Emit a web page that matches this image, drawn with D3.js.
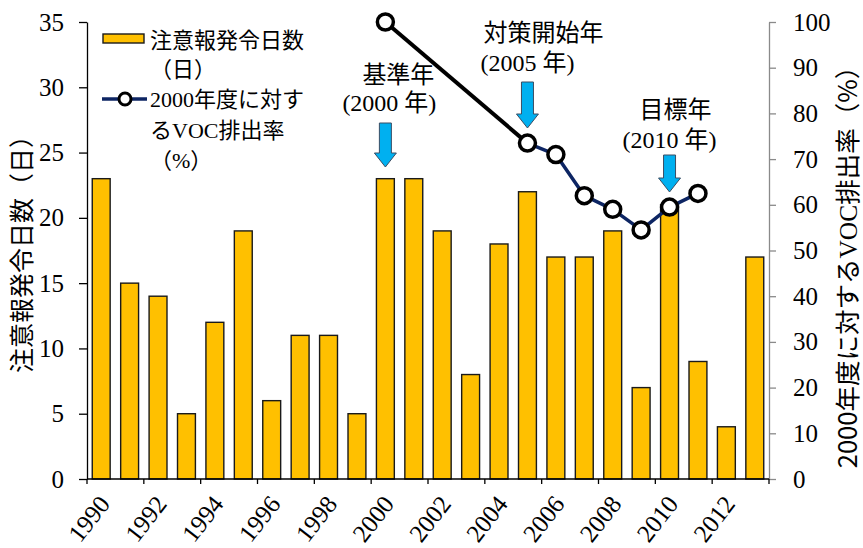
<!DOCTYPE html>
<html>
<head>
<meta charset="utf-8">
<script src="https://cdn.jsdelivr.net/npm/d3@7"></script>
<style>
  body { margin: 0; background: #fff; }
  svg { display: block; }
</style>
</head>
<body>
<svg id="chart" width="863" height="548"></svg>
<script>
// Photochemical oxidant alert days per year, and VOC emission ratio vs FY2000
const years = [1990, 1991, 1992, 1993, 1994, 1995, 1996, 1997, 1998, 1999, 2000, 2001,
               2002, 2003, 2004, 2005, 2006, 2007, 2008, 2009, 2010, 2011, 2012, 2013];
const alertDays = [23, 15, 14, 5, 12, 19, 6, 11, 11, 5, 23, 23,
                   19, 8, 18, 22, 17, 17, 19, 7, 21, 9, 4, 17];
const vocYears = [2000, 2005, 2006, 2007, 2008, 2009, 2010, 2011];
const vocRate = [100, 73.5, 71, 62, 59, 54.5, 59.5, 62.5];

const xTickLabels = [1990, 1992, 1994, 1996, 1998, 2000, 2002, 2004, 2006, 2008, 2010, 2012];
const leftTicks = [0, 5, 10, 15, 20, 25, 30, 35];
const rightTicks = [0, 10, 20, 30, 40, 50, 60, 70, 80, 90, 100];

const leftTitle = "注意報発令日数（日）";
const barLegend = ["注意報発令日数", "（日）"];
const lineLegend = ["2000年度に対す", "るVOC排出率", "（%）"];

// Callout labels with arrows pointing at milestone years
const callouts = [
  { year: 2000, lines: ["基準年", "(2000 年)"] },
  { year: 2005, lines: ["対策開始年", "(2005 年)"] },
  { year: 2010, lines: ["目標年", "(2010 年)"] }
];
// callout layout (px): text offsets from the arrow, line centres, arrow extent
const calloutLayout = [
  { dx: [13, 4], cy: [75, 103], top: 123, tip: 167 },
  { dx: [16, 0], cy: [33, 63], top: 82, tip: 128 },
  { dx: [6, 0], cy: [110, 140], top: 155, tip: 192 }
];

const SERIF = '"Liberation Serif", "Noto Sans CJK JP"';
const SANS = '"Noto Sans CJK JP"';

const svg = d3.select("#chart");
const plot = { left: 87, right: 769, top: 22, bottom: 479 };

const x = d3.scaleBand()
  .domain(years)
  .range([plot.left, plot.right])
  .paddingInner(0.37)
  .paddingOuter(0.185);
const yDays = d3.scaleLinear().domain([0, 35]).range([plot.bottom, plot.top]);
const yRate = d3.scaleLinear().domain([0, 100]).range([plot.bottom, plot.top]);
const cx = yr => x(yr) + x.bandwidth() / 2;

// Bars
svg.append("g")
  .selectAll("rect")
  .data(years.map((yr, i) => ({ yr, v: alertDays[i] })))
  .join("rect")
  .attr("x", d => x(d.yr))
  .attr("y", d => yDays(d.v))
  .attr("width", x.bandwidth())
  .attr("height", d => yDays(0) - yDays(d.v))
  .attr("fill", "#FFC000")
  .attr("stroke", "#1a1a1a")
  .attr("stroke-width", 1.4);

// Left axis
const leftAxis = svg.append("g")
  .attr("transform", `translate(${plot.left},0)`)
  .call(d3.axisLeft(yDays).tickValues(leftTicks).tickSize(8).tickPadding(15).tickSizeOuter(0));
leftAxis.select(".domain").attr("stroke", "#000").attr("stroke-width", 1.3);
leftAxis.selectAll(".tick line").attr("stroke", "#000").attr("stroke-width", 1.3);
leftAxis.selectAll(".tick text")
  .style("font-family", SERIF).style("font-size", "25px").attr("fill", "#000");

// Right axis
const rightAxis = svg.append("g")
  .attr("transform", `translate(${plot.right},0)`)
  .call(d3.axisRight(yRate).tickValues(rightTicks).tickSize(7).tickPadding(17).tickSizeOuter(0));
rightAxis.select(".domain").attr("stroke", "#8a8a8a").attr("stroke-width", 1.3);
rightAxis.selectAll(".tick line").attr("stroke", "#8a8a8a").attr("stroke-width", 1.3);
rightAxis.selectAll(".tick text")
  .style("font-family", SERIF).style("font-size", "25px").attr("fill", "#000");

// Bottom axis: ticks between every second category, slanted year labels
const xAxis = svg.append("g");
xAxis.append("line")
  .attr("x1", plot.left).attr("x2", plot.right)
  .attr("y1", plot.bottom).attr("y2", plot.bottom)
  .attr("stroke", "#000").attr("stroke-width", 1.3);
const boundaries = d3.range(0, years.length + 1, 2).map(i => plot.left + i * x.step());
xAxis.selectAll("line.tick")
  .data(boundaries)
  .join("line")
  .attr("class", "tick")
  .attr("x1", d => d).attr("x2", d => d)
  .attr("y1", plot.bottom).attr("y2", plot.bottom + 5)
  .attr("stroke", "#000").attr("stroke-width", 1.3);
xAxis.selectAll("text.xlab")
  .data(xTickLabels)
  .join("text")
  .attr("class", "xlab")
  .attr("transform", d => "translate(" + (cx(d) + 3) + "," + (plot.bottom + 20) + ") rotate(-52)")
  .attr("text-anchor", "end")
  .attr("dy", "0.35em")
  .style("font-family", SERIF)
  .style("font-size", "25px")
  .text(d => d);

// Emission ratio line: reference segment in black, then navy
const pts = vocYears.map((yr, i) => [cx(yr), yRate(vocRate[i])]);
const line = d3.line();
svg.append("path")
  .attr("d", line(pts.slice(0, 2)))
  .attr("fill", "none").attr("stroke", "#000").attr("stroke-width", 4);
svg.append("path")
  .attr("d", line(pts.slice(1)))
  .attr("fill", "none").attr("stroke", "#0d2563").attr("stroke-width", 3.5)
  .attr("stroke-linejoin", "round");
svg.append("g")
  .selectAll("circle")
  .data(pts)
  .join("circle")
  .attr("cx", d => d[0]).attr("cy", d => d[1])
  .attr("r", 8)
  .attr("fill", "#fff").attr("stroke", "#000").attr("stroke-width", 3.5);

// Callouts
callouts.forEach((c, i) => {
  const L = calloutLayout[i];
  const ax = cx(c.year);
  const g = svg.append("g");
  c.lines.forEach((t, j) => {
    g.append("text")
      .attr("x", ax + L.dx[j]).attr("y", L.cy[j])
      .attr("dy", "0.35em")
      .attr("text-anchor", "middle")
      .style("font-family", SERIF)
      .style("font-size", "24px")
      .text(t);
  });
  const sw = 6, hw = 11, hl = 14;
  const p = d3.path();
  p.moveTo(ax - sw, L.top);
  p.lineTo(ax + sw, L.top);
  p.lineTo(ax + sw, L.tip - hl);
  p.lineTo(ax + hw, L.tip - hl);
  p.lineTo(ax, L.tip);
  p.lineTo(ax - hw, L.tip - hl);
  p.lineTo(ax - sw, L.tip - hl);
  p.closePath();
  g.append("path")
    .attr("d", p.toString())
    .attr("fill", "#00B0F0")
    .attr("stroke", "#3b4d63")
    .attr("stroke-width", 1);
});

// Legend
const legend = svg.append("g");
legend.append("rect")
  .attr("x", 103).attr("y", 34).attr("width", 41).attr("height", 9)
  .attr("fill", "#FFC000").attr("stroke", "#1a1a1a").attr("stroke-width", 1.4);
legend.append("line")
  .attr("x1", 102).attr("x2", 147).attr("y1", 99).attr("y2", 99)
  .attr("stroke", "#0d2563").attr("stroke-width", 3.5);
legend.append("circle")
  .attr("cx", 125).attr("cy", 99).attr("r", 6)
  .attr("fill", "#fff").attr("stroke", "#000").attr("stroke-width", 3);
const legendLines = [
  { t: barLegend[0], y: 40 }, { t: barLegend[1], y: 69 },
  { t: lineLegend[0], y: 99 }, { t: lineLegend[1], y: 130 }, { t: lineLegend[2], y: 160 }
];
legend.selectAll("text")
  .data(legendLines)
  .join("text")
  .attr("x", 150).attr("y", d => d.y)
  .attr("dy", "0.35em")
  .style("font-family", SERIF)
  .style("font-size", "22px")
  .text(d => d.t);

// Axis titles
svg.append("text")
  .attr("transform", "translate(22,248) rotate(-90)")
  .attr("text-anchor", "middle")
  .attr("dy", "0.35em")
  .style("font-family", SANS)
  .style("font-size", "25px")
  .text(leftTitle);

const rt = svg.append("text")
  .attr("transform", "translate(848,261) rotate(-90)")
  .attr("text-anchor", "middle")
  .attr("dy", "0.35em")
  .style("font-family", SANS)
  .style("font-size", "25.5px");
rt.append("tspan").text("2000年度に対する");
rt.append("tspan").style("font-family", SERIF).text("VOC");
rt.append("tspan").text("排出率（%）");
</script>
</body>
</html>
